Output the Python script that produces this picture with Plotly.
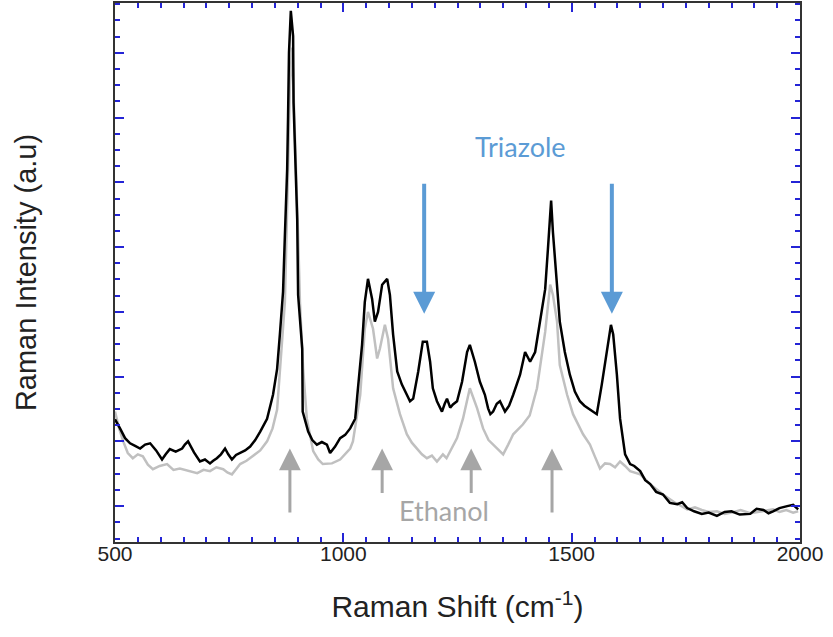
import plotly.graph_objects as go

# Raman shift (cm-1) and intensity (a.u.)
TRIAZOLE_X = [500, 505, 511, 522, 533, 544, 555, 566, 577, 590, 603, 611, 620, 633, 647, 653, 660,
              673, 686, 697, 708, 715, 723, 732, 741, 748, 756, 765, 774, 785,
              796, 807, 818, 833, 846, 855, 861, 868, 872, 877, 879, 881, 885, 890, 891, 894,
              899, 901, 910, 911, 923, 932, 942, 953, 964, 971, 982, 993, 1004, 1015, 1026, 1032,
              1041, 1047, 1054, 1063, 1069, 1076, 1085, 1096, 1102, 1109, 1118, 1128, 1139, 1146,
              1153, 1164, 1174, 1183, 1190, 1196, 1205, 1216, 1222, 1227, 1234, 1240, 1249, 1260,
              1271, 1277, 1288, 1299, 1310, 1317, 1322, 1328, 1336, 1343, 1354, 1363, 1372, 1387, 1398,
              1404, 1409, 1420, 1431, 1442, 1448, 1455, 1459, 1468, 1474, 1485, 1496, 1507,
              1518, 1528, 1536, 1547, 1555, 1566, 1577, 1586, 1591, 1599, 1606, 1617, 1628, 1637,
              1650, 1661, 1672, 1685, 1700, 1715, 1731, 1742, 1753, 1768, 1785, 1800, 1818, 1835,
              1850, 1868, 1891, 1905, 1920, 1931, 1941, 1955, 1972, 1985, 1996]
TRIAZOLE_Y = [1.34, 1.28, 1.20, 1.05, 0.97, 0.93, 0.89, 0.95, 0.97, 0.86, 0.72, 0.80, 0.88, 0.84, 0.89, 0.95, 1.00,
              0.83, 0.69, 0.72, 0.66, 0.70, 0.74, 0.80, 0.89, 0.80, 0.72, 0.79, 0.82, 0.86,
              0.92, 1.02, 1.15, 1.35, 1.72, 2.12, 2.65, 3.31, 4.18, 5.20, 6.03, 7.00, 7.65, 7.26, 6.23, 5.46,
              4.43, 3.26, 2.43, 1.46, 1.15, 1.02, 0.95, 0.99, 0.95, 0.82, 0.92, 1.05, 1.10, 1.20, 1.35, 1.82,
              2.49, 3.15, 3.51, 3.20, 2.85, 3.00, 3.42, 3.51, 3.26, 2.65, 2.08, 1.88, 1.72, 1.62,
              1.66, 2.08, 2.54, 2.54, 2.23, 1.82, 1.62, 1.46, 1.58, 1.66, 1.52, 1.57, 1.62, 1.92,
              2.38, 2.49, 2.23, 1.92, 1.72, 1.51, 1.42, 1.46, 1.58, 1.62, 1.46, 1.55, 1.72, 2.03, 2.38,
              2.30, 2.23, 2.38, 2.85, 3.35, 3.97, 4.72, 4.23, 3.46, 2.85, 2.38, 2.03, 1.77,
              1.62, 1.55, 1.51, 1.46, 1.42, 1.88, 2.38, 2.80, 2.65, 2.03, 1.35, 0.80, 0.65, 0.62,
              0.54, 0.40, 0.34, 0.22, 0.18, 0.05, 0.03, 0.06, -0.03, -0.08, -0.12, -0.10, -0.15, -0.09,
              -0.08, -0.13, -0.12, -0.04, -0.06, -0.11, -0.08, -0.03, 0.00, 0.02, -0.05]

ETHANOL_X = [500, 509, 518, 528, 539, 550, 561, 572, 583, 598, 614, 628, 642, 660, 680, 694, 708,
             722, 737, 746, 756, 765, 774, 788, 802, 818, 833, 845, 855,
             861, 872, 879, 883, 888, 890, 894, 901, 905, 912, 920, 934, 945, 955, 975, 993, 1015,
             1021, 1037, 1047, 1054, 1065, 1074, 1080, 1091, 1098, 1109, 1124, 1139, 1150, 1161,
             1172, 1183, 1194, 1205, 1218, 1226, 1234, 1249, 1262, 1277, 1293, 1306, 1318, 1328, 1340,
             1350, 1361, 1372, 1393, 1408, 1424, 1442, 1453, 1459, 1468, 1474, 1490, 1503, 1525, 1540,
             1550, 1562, 1573, 1584, 1595, 1606, 1617, 1628, 1650, 1672, 1700, 1725, 1753, 1770, 1785,
             1800, 1818, 1835, 1850, 1870, 1891, 1912, 1941, 1955, 1970, 1985, 1996]
ETHANOL_Y = [1.46, 1.20, 1.00, 0.82, 0.74, 0.80, 0.77, 0.64, 0.57, 0.62, 0.65, 0.56, 0.58, 0.55, 0.51, 0.56, 0.54,
             0.60, 0.57, 0.52, 0.49, 0.57, 0.65, 0.70, 0.77, 0.86, 1.00, 1.20, 1.49,
             2.03, 3.15, 5.20, 6.49, 7.08, 6.49, 5.72, 4.18, 3.15, 2.12, 1.35, 0.85, 0.72, 0.65, 0.66, 0.72, 0.89,
             1.00, 1.72, 2.74, 3.00, 2.74, 2.28, 2.43, 2.80, 2.58, 1.82, 1.42, 1.11, 0.98, 0.89,
             0.80, 0.74, 0.78, 0.69, 0.80, 0.74, 0.85, 1.05, 1.35, 1.82, 1.51, 1.20, 1.02, 0.95, 0.86,
             0.80, 0.95, 1.11, 1.26, 1.40, 1.82, 2.69, 3.42, 3.26, 2.85, 2.18, 1.72, 1.42, 1.11, 0.95,
             0.78, 0.58, 0.66, 0.65, 0.60, 0.69, 0.62, 0.54, 0.49, 0.34, 0.18, 0.06, -0.05, -0.02, -0.06,
             -0.09, -0.08, -0.12, -0.10, -0.06, -0.11, -0.08, -0.05, -0.09, -0.06, -0.10, -0.08]

# arrow markers: (shift, tip, tail)
TRIAZOLE_ARROWS = [(1177, 2.97, 5.0), (1588, 2.97, 5.0)]
ETHANOL_ARROWS = [(883, 0.89, -0.12), (1085, 0.89, 0.18), (1280, 0.89, 0.18), (1457, 0.89, -0.12)]

BLUE = '#5b9bd5'
GREY = '#a6a6a6'
TICK = '#2424d6'
FONT = 'Liberation Sans, Arial, sans-serif'

fig = go.Figure()
fig.add_trace(go.Scatter(x=ETHANOL_X, y=ETHANOL_Y, mode='lines',
                         line=dict(color='#c0c0c0', width=2.5), name='Ethanol'))
fig.add_trace(go.Scatter(x=TRIAZOLE_X, y=TRIAZOLE_Y, mode='lines',
                         line=dict(color='black', width=2.5), name='Triazole'))

for x, tip, tail in TRIAZOLE_ARROWS:
    fig.add_annotation(x=x, y=tip, ax=x, ay=tail, axref='x', ayref='y', text='',
                       showarrow=True, arrowhead=2, arrowsize=1.1, arrowwidth=4, arrowcolor=BLUE)
for x, tip, tail in ETHANOL_ARROWS:
    fig.add_annotation(x=x, y=tip, ax=x, ay=tail, axref='x', ayref='y', text='',
                       showarrow=True, arrowhead=2, arrowsize=1.45, arrowwidth=3, arrowcolor=GREY)

fig.add_annotation(x=1387, y=5.55, text='Triazole', showarrow=False,
                   font=dict(family='Lato, Open Sans, sans-serif', size=27, color=BLUE))
fig.add_annotation(x=1220, y=-0.06, text='Ethanol', showarrow=False,
                   font=dict(family='Lato, Open Sans, sans-serif', size=27, color=GREY))

fig.update_layout(
    width=833, height=637,
    margin=dict(l=115, r=33, t=1, b=95),
    plot_bgcolor='white', paper_bgcolor='white',
    showlegend=False,
    font=dict(family=FONT, color='#222222'),
)
fig.update_xaxes(
    range=[500, 2000], dtick=500, tick0=500,
    ticks='inside', ticklen=9, tickwidth=1.5, tickcolor=TICK,
    minor=dict(dtick=50, ticks='inside', ticklen=5, tickcolor=TICK, showgrid=False),
    showline=True, linecolor='#333333', linewidth=2, mirror='allticks',
    showgrid=False, zeroline=False,
    tickfont=dict(size=21), ticklabelstandoff=-8,
    title=dict(text='Raman Shift (cm<sup>-1</sup>)', font=dict(size=30), standoff=32),
)
fig.update_yaxes(
    range=[-0.554, 7.77], dtick=1, tick0=0,
    ticks='inside', ticklen=9, tickwidth=1.5, tickcolor=TICK,
    minor=dict(dtick=0.25, ticks='inside', ticklen=5, tickcolor=TICK, showgrid=False),
    showline=True, linecolor='#333333', linewidth=2, mirror='allticks',
    showgrid=False, zeroline=False, showticklabels=False,
    title=dict(text='Raman Intensity (a.u)', font=dict(size=29), standoff=68),
)

# page body has an 8px default margin; drop it so the figure sits at the window origin
fig.write_html("out.html", config={'displayModeBar': False},
               post_script="document.body.style.margin='0px';")
